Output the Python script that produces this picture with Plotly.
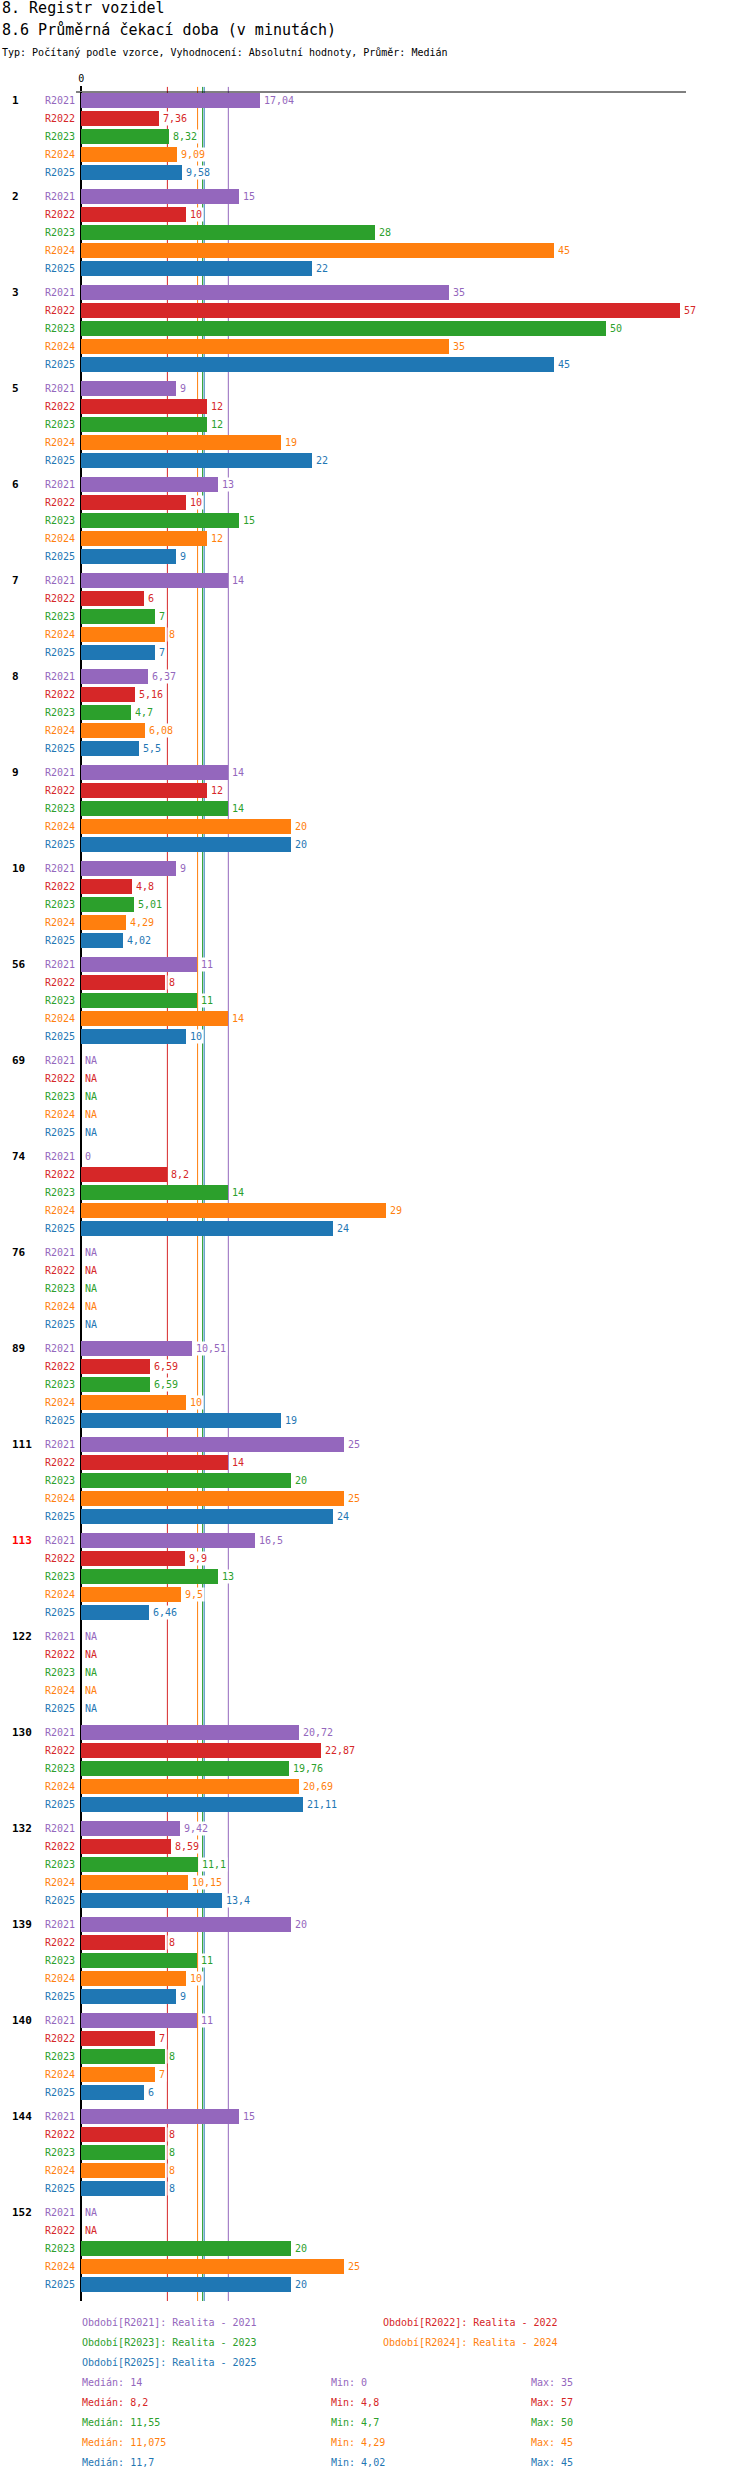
import numpy as np
import plotly.graph_objects as go

# skupiny (poradi shora dolu)
groups = ["1", "2", "3", "5", "6", "7", "8", "9", "10", "56", "69", "74", "76",
          "89", "111", "113", "122", "130", "132", "139", "140", "144", "152"]
highlight = ["113"]

periods = ["R2021", "R2022", "R2023", "R2024", "R2025"]
colors = ["#9467bd", "#d62728", "#2ca02c", "#ff7f0e", "#1f77b4"]
NA = None

r2021 = [17.04, 15, 35, 9, 13, 14, 6.37, 14, 9, 11, NA, 0, NA,
         10.51, 25, 16.5, NA, 20.72, 9.42, 20, 11, 15, NA]
r2022 = [7.36, 10, 57, 12, 10, 6, 5.16, 12, 4.8, 8, NA, 8.2, NA,
         6.59, 14, 9.9, NA, 22.87, 8.59, 8, 7, 8, NA]
r2023 = [8.32, 28, 50, 12, 15, 7, 4.7, 14, 5.01, 11, NA, 14, NA,
         6.59, 20, 13, NA, 19.76, 11.1, 11, 8, 8, 20]
r2024 = [9.09, 45, 35, 19, 12, 8, 6.08, 20, 4.29, 14, NA, 29, NA,
         10, 25, 9.5, NA, 20.69, 10.15, 10, 7, 8, 25]
r2025 = [9.58, 22, 45, 22, 9, 7, 5.5, 20, 4.02, 10, NA, 24, NA,
         19, 24, 6.46, NA, 21.11, 13.4, 9, 6, 8, 20]
series = [r2021, r2022, r2023, r2024, r2025]

legend_texts = ["Období[R2021]: Realita - 2021", "Období[R2022]: Realita - 2022",
                "Období[R2023]: Realita - 2023", "Období[R2024]: Realita - 2024",
                "Období[R2025]: Realita - 2025"]

FONT = "DejaVu Sans Mono"
GROUP_STEP = 5 + 1 / 3
X_RANGE = [-0.5, 57.57]


def fmt(v):
    return f"{v:g}".replace(".", ",")


def pos(g, i):
    return g * GROUP_STEP + i


fig = go.Figure()

tickvals, ticktext = [], []
for g in range(len(groups)):
    for i, p in enumerate(periods):
        tickvals.append(pos(g, i))
        ticktext.append(f"<span style='color:{colors[i]}'>{p}</span>")

for i, (p, vals) in enumerate(zip(periods, series)):
    fig.add_trace(go.Bar(
        x=vals, y=[pos(g, i) for g in range(len(groups))],
        orientation="h", width=0.86, name=p,
        marker=dict(color=colors[i], line=dict(width=0)),
        hoverinfo="skip", showlegend=False))

annotations = []

# hodnoty u sloupcu
for i, vals in enumerate(series):
    for g, v in enumerate(vals):
        annotations.append(dict(
            x=0 if v is None else v, y=pos(g, i), xref="x", yref="y",
            text="NA" if v is None else fmt(v), showarrow=False,
            xanchor="left", yanchor="middle", xshift=2, bgcolor="white",
            borderpad=1, font=dict(family=FONT, size=10, color=colors[i])))

# popisky skupin
for g, name in enumerate(groups):
    annotations.append(dict(
        x=0, y=pos(g, 0), xref="paper", yref="y", xshift=-66,
        text=f"<b>{name}</b>", showarrow=False, xanchor="left", yanchor="middle",
        font=dict(family=FONT, size=11,
                  color="#ff0000" if name in highlight else "black")))

# hlavicka
header = [("8. Registr vozidel", 15, 84),
          ("8.6 Průměrná čekací doba (v minutách)", 15, 62),
          ("Typ: Počítaný podle vzorce, Vyhodnocení: Absolutní hodnoty, Průměr: Medián", 10, 40)]
for txt, size, shift in header:
    annotations.append(dict(
        x=0, y=1, xref="paper", yref="paper", xshift=-76, yshift=shift,
        text=txt, showarrow=False, xanchor="left", yanchor="middle",
        font=dict(family=FONT, size=size, color="black")))

# legenda
legend_pos = [(4, -21), (305, -21), (4, -41), (305, -41), (4, -61)]
for i, (txt, (dx, dy)) in enumerate(zip(legend_texts, legend_pos)):
    annotations.append(dict(
        x=0, y=0, xref="paper", yref="paper", xshift=dx, yshift=dy,
        text=txt, showarrow=False, xanchor="left", yanchor="middle",
        font=dict(family=FONT, size=10, color=colors[i])))

# statistiky
medians = []
for i, vals in enumerate(series):
    arr = np.array([np.nan if v is None else v for v in vals], dtype=float)
    med = float(np.nanmedian(arr))
    medians.append(med)
    stats = [f"Medián: {fmt(round(med, 6))}", f"Min: {fmt(np.nanmin(arr))}",
             f"Max: {fmt(np.nanmax(arr))}"]
    for txt, dx in zip(stats, [4, 253, 453]):
        annotations.append(dict(
            x=0, y=0, xref="paper", yref="paper", xshift=dx, yshift=-81 - 20 * i,
            text=txt, showarrow=False, xanchor="left", yanchor="middle",
            font=dict(family=FONT, size=10, color=colors[i])))

shapes = []
for med, c in zip(medians, colors):
    shapes.append(dict(type="line", xref="x", yref="paper", x0=med, x1=med,
                       y0=0, y1=1.0023, layer="below",
                       line=dict(color=c, width=1)))
# horni osa
shapes.append(dict(type="line", xref="x", yref="paper", x0=X_RANGE[0], x1=X_RANGE[1],
                   y0=1, y1=1, layer="above", line=dict(color="black", width=1)))

fig.update_layout(
    width=750, height=2480, autosize=False,
    margin=dict(l=76, r=64, t=92, b=179, pad=0),
    plot_bgcolor="white", paper_bgcolor="white",
    barmode="overlay", bargap=0,
    font=dict(family=FONT, size=10, color="black"),
    annotations=annotations, shapes=shapes,
    xaxis=dict(side="top", range=X_RANGE, tickvals=[0], ticktext=["0"],
               showgrid=False, showline=False,
               zeroline=True, zerolinecolor="black", zerolinewidth=2,
               ticks="outside", ticklen=5, tickwidth=2, tickcolor="black",
               tickfont=dict(family=FONT, size=10, color="black"),
               automargin=False, fixedrange=True),
    yaxis=dict(range=[122.24, -0.483], tickvals=tickvals, ticktext=ticktext,
               showgrid=False, zeroline=False, showline=False, ticks="",
               tickfont=dict(family=FONT, size=10), automargin=False,
               fixedrange=True),
)

fig.write_html("out.html", config={"displayModeBar": False},
               post_script="document.body.style.margin='0';")
